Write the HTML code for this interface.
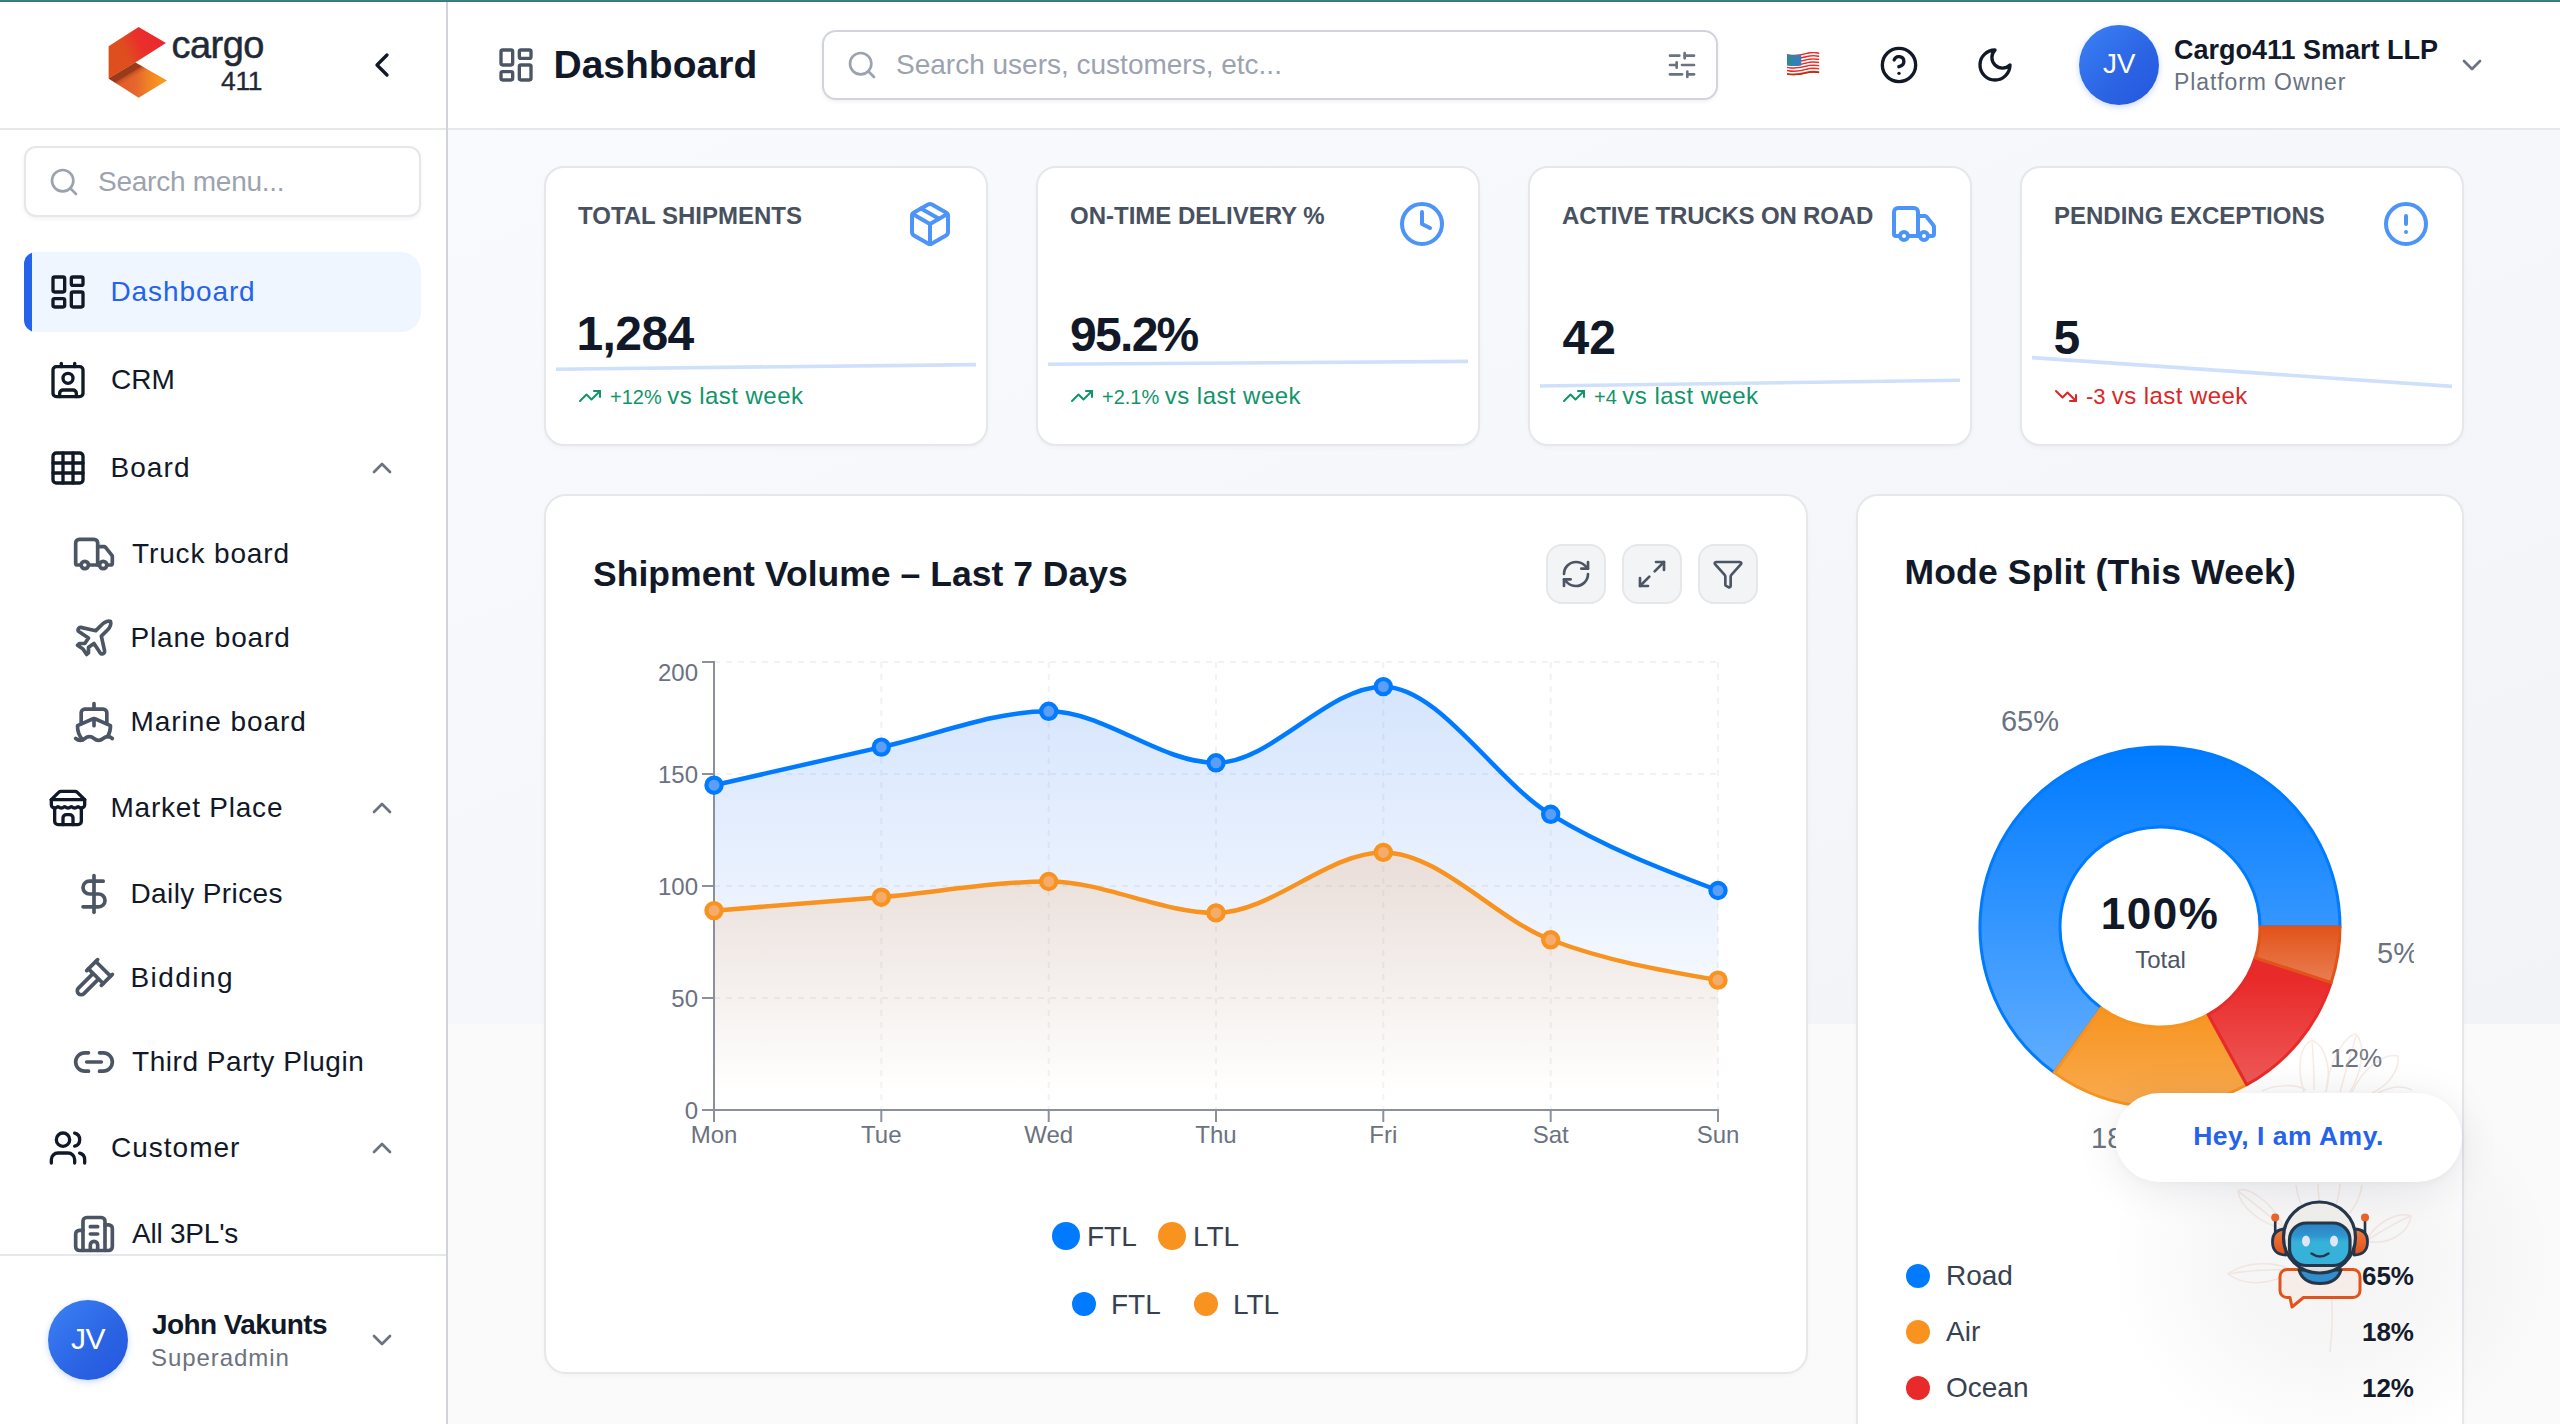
<!DOCTYPE html>
<html lang="en">
<head>
<meta charset="utf-8">
<title>Dashboard</title>
<style>
*{box-sizing:border-box;margin:0;padding:0}
html,body{width:2560px;height:1424px;overflow:hidden;background:#fafafa;font-family:"Liberation Sans",sans-serif;color:#111827}
body{position:relative}
.abs{position:absolute}
svg{display:block;overflow:visible}
.ic{fill:none;stroke:currentColor;stroke-width:2;stroke-linecap:round;stroke-linejoin:round}
.t{position:absolute;white-space:nowrap;line-height:1}
#strip{left:0;top:0;width:2560px;height:2px;background:linear-gradient(#3d8388,#2f7478)}
#mainbg{left:448px;top:130px;width:2112px;height:894px;background:linear-gradient(to bottom right,#f9fafd 0%,#f6f7fa 50%,#f2f3f6 100%)}
#sb{left:0;top:2px;width:448px;height:1422px;background:#fff;border-right:2px solid #d1d5db}
#hd{left:448px;top:2px;width:2112px;height:128px;background:#fff;border-bottom:2px solid #e5e7eb}
#sbline{left:0;top:128px;width:446px;height:2px;background:#e5e7eb}
/* sidebar */
.nav{position:absolute;left:24px;width:397px;height:80px;border-radius:12px 20px 20px 12px}
.nav.act{background:#eff6ff;overflow:hidden}
.nav.act:before{content:"";position:absolute;left:0;top:0;width:8px;height:100%;background:#2563eb}
.nav svg.i1{position:absolute;left:24px;top:20px;width:40px;height:40px;color:#111827}
.nav .lb{position:absolute;left:88px;top:24px;font-size:28px;line-height:32px;white-space:nowrap;letter-spacing:.5px}
.nav svg.ch{position:absolute;left:342px;top:24px;width:32px;height:32px;color:#6b7280}
.sub{position:absolute;left:48px;width:373px;height:76px}
.sub svg.i2{position:absolute;left:24px;top:16px;width:44px;height:44px;color:#4b5563}
.sub .lb{position:absolute;left:84px;top:22px;font-size:28px;line-height:32px;white-space:nowrap;letter-spacing:.5px}
/* cards */
.card{position:absolute;background:#fff;border:2px solid #e5e7eb;border-radius:20px;box-shadow:0 2px 4px rgba(16,24,40,.03)}
.kpi{top:166px;width:444px;height:280px}
.kpi .lab{position:absolute;left:32px;top:35.6px;font-size:24px;line-height:1;font-weight:bold;color:#47515f;white-space:nowrap}
.kpi .val{position:absolute;left:32px;top:140.8px;font-size:48px;line-height:1;font-weight:bold;color:#111827;white-space:nowrap;letter-spacing:-.6px}
.kpi .tr{position:absolute;left:32px;top:215.6px;height:24px;font-size:24px;line-height:1;white-space:nowrap;color:#12946a;letter-spacing:.45px}
.kpi .tr .n{font-size:20px;letter-spacing:0}
.kpi .tr svg{position:absolute;left:0;top:0.5px;width:24px;height:24px}
.kpi .tr span.x{position:absolute;left:32px;top:0}
.kpi svg.ki{position:absolute;left:360px;top:32px;width:48px;height:48px;color:#4d94f8}
</style>
</head>
<body>
<div id="mainbg" class="abs"></div>
<div id="sb" class="abs"></div>
<div id="hd" class="abs"></div>
<div id="sbline" class="abs"></div>
<div id="strip" class="abs"></div>

<!-- logo -->
<svg class="abs" style="left:100px;top:20px" width="80" height="84" viewBox="100 20 80 84">
<defs>
<linearGradient id="lgA" x1="112" y1="62" x2="160" y2="40" gradientUnits="userSpaceOnUse"><stop offset="0" stop-color="#de4f1e"/><stop offset=".32" stop-color="#df4d1f"/><stop offset=".62" stop-color="#e9302b"/><stop offset="1" stop-color="#ec282e"/></linearGradient>
<linearGradient id="lgB" x1="118" y1="80" x2="160" y2="82" gradientUnits="userSpaceOnUse"><stop offset="0" stop-color="#e15b26"/><stop offset=".45" stop-color="#e5682d"/><stop offset=".7" stop-color="#ef8026"/><stop offset="1" stop-color="#f8961e"/></linearGradient><linearGradient id="lgS" x1="122" y1="70.2" x2="128.500" y2="81" gradientUnits="userSpaceOnUse"><stop offset="0" stop-color="#9a3a1b"/><stop offset=".5" stop-color="#9c3b1b"/><stop offset=".62" stop-color="#b04520" stop-opacity=".6"/><stop offset="1" stop-color="#d55525" stop-opacity="0"/></linearGradient>
</defs>
<polygon points="108.600,46.2 138.600,26.9 166,43 135.300,62.5 108.600,78.5" fill="url(#lgA)"/>
<polygon points="108.600,78.5 135.300,62.5 167,80.5 138.600,97.8" fill="url(#lgB)"/><polygon points="108.600,78.5 135.300,62.5 167,80.5 138.600,97.8" fill="url(#lgS)"/>
</svg>
<div class="t" style="left:171.5px;top:25.8px;font-size:38px;color:#1f2937;letter-spacing:-.55px;-webkit-text-stroke:.5px #1f2937">cargo</div>
<div class="t" style="left:221px;top:68.2px;font-size:26.4px;color:#1f2937;letter-spacing:-.3px;-webkit-text-stroke:.35px #1f2937">411</div>
<svg class="abs ic" style="left:362px;top:45px;color:#111827" width="40" height="40" viewBox="0 0 24 24"><path d="m15 18-6-6 6-6"/></svg>

<!-- search menu -->
<div class="abs" style="left:24px;top:146px;width:397px;height:71px;background:#fff;border:2px solid #e5e7eb;border-radius:12px;box-shadow:0 2px 4px rgba(16,24,40,.05)"></div>
<svg class="abs ic" style="left:48px;top:166px;color:#9ca3af" width="32" height="32" viewBox="0 0 24 24"><circle cx="11" cy="11" r="8"/><path d="m21 21-4.3-4.3"/></svg>
<div class="t" style="left:98px;top:168px;font-size:28px;color:#9ca3af;letter-spacing:-.25px">Search menu...</div>

<!-- nav -->
<div class="nav act" style="top:252px">
<svg class="i1 ic" viewBox="0 0 24 24"><rect width="7" height="9" x="3" y="3" rx="1"/><rect width="7" height="5" x="14" y="3" rx="1"/><rect width="7" height="9" x="14" y="12" rx="1"/><rect width="7" height="5" x="3" y="16" rx="1"/></svg>
<div class="lb" style="color:#2563eb;letter-spacing:0.90px;margin-left:-1.5px">Dashboard</div></div>

<div class="nav" style="top:340px">
<svg class="i1 ic" viewBox="0 0 24 24"><path d="M16 2v2"/><path d="M7 22v-2a2 2 0 0 1 2-2h6a2 2 0 0 1 2 2v2"/><path d="M8 2v2"/><circle cx="12" cy="11" r="3"/><rect x="3" y="4" width="18" height="18" rx="2"/></svg>
<div class="lb" style="letter-spacing:0.07px;margin-left:-1.0px">CRM</div></div>

<div class="nav" style="top:428px">
<svg class="i1 ic" viewBox="0 0 24 24"><rect width="18" height="18" x="3" y="3" rx="2"/><path d="M3 9h18"/><path d="M3 15h18"/><path d="M9 3v18"/><path d="M15 3v18"/></svg>
<div class="lb" style="letter-spacing:1.06px;margin-left:-1.5px">Board</div>
<svg class="ch ic" viewBox="0 0 24 24"><path d="m18 15-6-6-6 6"/></svg></div>

<div class="sub" style="top:516px">
<svg class="i2 ic" viewBox="0 0 24 24"><path d="M14 18V6a2 2 0 0 0-2-2H4a2 2 0 0 0-2 2v11a1 1 0 0 0 1 1h2"/><path d="M15 18H9"/><path d="M19 18h2a1 1 0 0 0 1-1v-3.650a1 1 0 0 0-.22-.624l-3.480-4.350A1 1 0 0 0 17.520 8H14"/><circle cx="17" cy="18" r="2"/><circle cx="7" cy="18" r="2"/></svg>
<div class="lb" style="letter-spacing:0.87px">Truck board</div></div>

<div class="sub" style="top:600px">
<svg class="i2 ic" viewBox="0 0 24 24"><path d="M17.800 19.200 16 11l3.500-3.500C21 6 21.500 4 21 3c-1-.5-3 0-4.500 1.500L13 8 4.800 6.200c-.5-.1-.9.100-1.100.5l-.3.500c-.2.500-.1 1 .3 1.300L9 12l-2 3H4l-1 1 3 2 2 3 1-1v-3l3-2 3.500 5.300c.3.400.8.500 1.300.3l.500-.2c.4-.3.600-.7.500-1.200z"/></svg>
<div class="lb" style="letter-spacing:0.82px;margin-left:-1.5px">Plane board</div></div>

<div class="sub" style="top:684px">
<svg class="i2 ic" viewBox="0 0 24 24"><path d="M12 10.189V14"/><path d="M12 2v3"/><path d="M19 13V7a2 2 0 0 0-2-2H7a2 2 0 0 0-2 2v6"/><path d="M19.380 20A11.600 11.600 0 0 0 21 14l-8.188-3.639a2 2 0 0 0-1.624 0L3 14a11.600 11.600 0 0 0 2.810 7.760"/><path d="M2 21c.6.500 1.200 1 2.500 1 2.500 0 2.500-2 5-2 1.300 0 1.900.500 2.500 1s1.200 1 2.500 1c2.500 0 2.500-2 5-2 1.300 0 1.900.500 2.500 1"/></svg>
<div class="lb" style="letter-spacing:0.94px;margin-left:-1.5px">Marine board</div></div>

<div class="nav" style="top:768px">
<svg class="i1 ic" viewBox="0 0 24 24"><path d="m2 7 4.410-4.410A2 2 0 0 1 7.830 2h8.340a2 2 0 0 1 1.420.590L22 7"/><path d="M4 12v8a2 2 0 0 0 2 2h12a2 2 0 0 0 2-2v-8"/><path d="M15 22v-4a2 2 0 0 0-2-2h-2a2 2 0 0 0-2 2v4"/><path d="M2 7h20"/><path d="M22 7v3a2 2 0 0 1-2 2a2.700 2.700 0 0 1-1.590-.630.700.700 0 0 0-.820 0A2.700 2.700 0 0 1 16 12a2.700 2.700 0 0 1-1.590-.630.700.700 0 0 0-.820 0A2.700 2.700 0 0 1 12 12a2.700 2.700 0 0 1-1.590-.630.700.700 0 0 0-.820 0A2.700 2.700 0 0 1 8 12a2.700 2.700 0 0 1-1.590-.630.700.700 0 0 0-.820 0A2.700 2.700 0 0 1 4 12a2 2 0 0 1-2-2V7"/></svg>
<div class="lb" style="letter-spacing:0.78px;margin-left:-1.5px">Market Place</div>
<svg class="ch ic" viewBox="0 0 24 24"><path d="m18 15-6-6-6 6"/></svg></div>

<div class="sub" style="top:856px">
<svg class="i2 ic" viewBox="0 0 24 24"><line x1="12" x2="12" y1="2" y2="22"/><path d="M17 5H9.500a3.500 3.500 0 0 0 0 7h5a3.500 3.500 0 0 1 0 7H6"/></svg>
<div class="lb" style="letter-spacing:0.38px;margin-left:-1.5px">Daily Prices</div></div>

<div class="sub" style="top:940px">
<svg class="i2 ic" viewBox="0 0 24 24"><path d="m14 13-7.500 7.500c-.83.830-2.170.830-3 0 0 0 0 0 0 0a2.120 2.120 0 0 1 0-3L11 10"/><path d="m16 16 6-6"/><path d="m8 8 6-6"/><path d="m9 7 8 8"/><path d="m21 11-8-8"/></svg>
<div class="lb" style="letter-spacing:1.44px;margin-left:-1.5px">Bidding</div></div>

<div class="sub" style="top:1024px">
<svg class="i2 ic" viewBox="0 0 24 24"><path d="M9 17H7A5 5 0 0 1 7 7h2"/><path d="M15 7h2a5 5 0 1 1 0 10h-2"/><line x1="8" x2="16" y1="12" y2="12"/></svg>
<div class="lb" style="letter-spacing:0.54px">Third Party Plugin</div></div>

<div class="nav" style="top:1108px">
<svg class="i1 ic" viewBox="0 0 24 24"><path d="M16 21v-2a4 4 0 0 0-4-4H6a4 4 0 0 0-4 4v2"/><circle cx="9" cy="7" r="4"/><path d="M22 21v-2a4 4 0 0 0-3-3.870"/><path d="M16 3.130a4 4 0 0 1 0 7.750"/></svg>
<div class="lb" style="letter-spacing:1.00px;margin-left:-1.0px">Customer</div>
<svg class="ch ic" viewBox="0 0 24 24"><path d="m18 15-6-6-6 6"/></svg></div>

<div class="sub" style="top:1196px">
<svg class="i2 ic" viewBox="0 0 24 24"><path d="M10 12h4"/><path d="M10 8h4"/><path d="M14 21v-3a2 2 0 0 0-4 0v3"/><path d="M6 10H4a2 2 0 0 0-2 2v7a2 2 0 0 0 2 2h16a2 2 0 0 0 2-2V9a2 2 0 0 0-2-2h-2"/><path d="M6 21V5a2 2 0 0 1 2-2h8a2 2 0 0 1 2 2v16"/></svg>
<div class="lb" style="letter-spacing:-0.22px">All 3PL's</div></div>

<!-- sidebar footer -->
<div class="abs" style="left:0;top:1254px;width:446px;height:170px;background:#fff;border-top:2px solid #e5e7eb"></div>
<div class="abs" style="left:48px;top:1300px;width:80px;height:80px;border-radius:50%;background:linear-gradient(135deg,#3b82f6 0%,#2b63e3 60%,#2457df 100%);box-shadow:0 2px 6px rgba(37,99,235,.25)"></div>
<div class="t" style="left:48px;top:1324px;width:80px;text-align:center;font-size:30px;color:#fff;letter-spacing:-.5px">JV</div>
<div class="t" style="left:152px;top:1311px;font-size:28px;font-weight:bold;color:#111827;letter-spacing:-.58px">John Vakunts</div>
<div class="t" style="left:151px;top:1346px;font-size:24px;color:#6b7280;letter-spacing:.94px">Superadmin</div>
<svg class="abs ic" style="left:366px;top:1324px;color:#6b7280" width="32" height="32" viewBox="0 0 24 24"><path d="m6 9 6 6 6-6"/></svg>

<!-- header -->
<svg class="abs ic" style="left:496px;top:45px;color:#4b5563" width="40" height="40" viewBox="0 0 24 24"><rect width="7" height="9" x="3" y="3" rx="1"/><rect width="7" height="5" x="14" y="3" rx="1"/><rect width="7" height="9" x="14" y="12" rx="1"/><rect width="7" height="5" x="3" y="16" rx="1"/></svg>
<div class="t" style="left:553.5px;top:45.4px;font-size:39px;font-weight:bold;color:#111827">Dashboard</div>
<div class="abs" style="left:822px;top:30px;width:896px;height:70px;background:#fff;border:2px solid #d1d5db;border-radius:14px;box-shadow:0 2px 4px rgba(16,24,40,.06)"></div>
<svg class="abs ic" style="left:846px;top:49px;color:#9ca3af" width="32" height="32" viewBox="0 0 24 24"><circle cx="11" cy="11" r="8"/><path d="m21 21-4.300-4.300"/></svg>
<div class="t" style="left:896px;top:51px;font-size:28px;color:#9ca3af">Search users, customers, etc...</div>
<svg class="abs ic" style="left:1666px;top:49px;color:#6b7280" width="32" height="32" viewBox="0 0 24 24"><path d="M10 5H3"/><path d="M12 19H3"/><path d="M14 3v4"/><path d="M16 17v4"/><path d="M21 12h-9"/><path d="M21 19h-5"/><path d="M21 5h-7"/><path d="M8 10v4"/><path d="M8 12H3"/></svg>
<svg class="abs" style="left:1787px;top:52px" width="33" height="24" viewBox="0 0 33 24">
<defs><clipPath id="fc"><rect x="0" y="0" width="32.4" height="24"/></clipPath></defs>
<g clip-path="url(#fc)"><path d="M0,2.98 C8,4.38 13,3.58 19,1.78 S28,0.48 32.4,1.28" stroke="#ee2a24" stroke-width="1.72" fill="none"/>
<path d="M0,4.55 C8,5.95 13,5.15 19,3.35 S28,2.05 32.4,2.85" stroke="#ffffff" stroke-width="1.72" fill="none"/>
<path d="M0,6.12 C8,7.52 13,6.72 19,4.92 S28,3.62 32.4,4.42" stroke="#ee2a24" stroke-width="1.72" fill="none"/>
<path d="M0,7.69 C8,9.09 13,8.29 19,6.49 S28,5.19 32.4,5.99" stroke="#ffffff" stroke-width="1.72" fill="none"/>
<path d="M0,9.26 C8,10.66 13,9.86 19,8.06 S28,6.76 32.4,7.56" stroke="#ee2a24" stroke-width="1.72" fill="none"/>
<path d="M0,10.83 C8,12.23 13,11.43 19,9.63 S28,8.33 32.4,9.13" stroke="#ffffff" stroke-width="1.72" fill="none"/>
<path d="M0,12.40 C8,13.80 13,13.00 19,11.20 S28,9.90 32.4,10.70" stroke="#ee2a24" stroke-width="1.72" fill="none"/>
<path d="M0,13.97 C8,15.37 13,14.57 19,12.77 S28,11.47 32.4,12.27" stroke="#ffffff" stroke-width="1.72" fill="none"/>
<path d="M0,15.54 C8,16.94 13,16.14 19,14.34 S28,13.04 32.4,13.84" stroke="#ee2a24" stroke-width="1.72" fill="none"/>
<path d="M0,17.11 C8,18.51 13,17.71 19,15.91 S28,14.61 32.4,15.41" stroke="#ffffff" stroke-width="1.72" fill="none"/>
<path d="M0,18.68 C8,20.08 13,19.28 19,17.48 S28,16.18 32.4,16.98" stroke="#ee2a24" stroke-width="1.72" fill="none"/>
<path d="M0,20.25 C8,21.65 13,20.85 19,19.05 S28,17.75 32.4,18.55" stroke="#ffffff" stroke-width="1.72" fill="none"/>
<path d="M0,21.82 C8,23.22 13,22.42 19,20.62 S28,19.32 32.4,20.12" stroke="#ee2a24" stroke-width="1.72" fill="none"/>
<path d="M0,2.2 C5,3.4 9.5,3.2 14.2,2.4 L14.2,13.4 C9.5,14.2 5,14.4 0,13.2Z" fill="#337fbc"/>
<path d="M0,2.2 C2,2.7 4,3 6,3.1 L6,14 C4,13.9 2,13.7 0,13.2Z" fill="#2f8b8c" opacity=".8"/>
<path d="M0,22 C8,23.6 13,22.6 19,21 S28,19.8 32.4,20.6" stroke="#a8360c" stroke-width="1.2" fill="none"/>
</g></svg>
<svg class="abs ic" style="left:1879px;top:45px;color:#111827" width="40" height="40" viewBox="0 0 24 24"><circle cx="12" cy="12" r="10"/><path d="M9.090 9a3 3 0 0 1 5.830 1c0 2-3 3-3 3"/><path d="M12 17h.01"/></svg>
<svg class="abs ic" style="left:1975px;top:45px;color:#111827" width="40" height="40" viewBox="0 0 24 24"><path d="M12 3a6 6 0 0 0 9 9 9 9 0 1 1-9-9Z"/></svg>
<div class="abs" style="left:2079px;top:25px;width:80px;height:80px;border-radius:50%;background:linear-gradient(135deg,#3b82f6 0%,#2b63e3 60%,#2457df 100%);box-shadow:0 2px 6px rgba(37,99,235,.25)"></div>
<div class="t" style="left:2079px;top:50px;width:80px;text-align:center;font-size:28px;color:#fff;letter-spacing:-.3px">JV</div>
<div class="t" style="left:2174px;top:36.5px;font-size:27px;font-weight:bold;color:#111827">Cargo411 Smart LLP</div>
<div class="t" style="left:2174px;top:70.8px;font-size:23px;color:#6b7280;letter-spacing:.9px">Platform Owner</div>
<svg class="abs ic" style="left:2456px;top:49px;color:#6b7280" width="32" height="32" viewBox="0 0 24 24"><path d="m6 9 6 6 6-6"/></svg>

<!-- KPI cards -->
<div class="card kpi" style="left:544px">
<div class="lab">TOTAL SHIPMENTS</div>
<svg class="ki ic" viewBox="0 0 24 24"><path d="m7.500 4.270 9 5.150"/><path d="M21 8a2 2 0 0 0-1-1.730l-7-4a2 2 0 0 0-2 0l-7 4A2 2 0 0 0 3 8v8a2 2 0 0 0 1 1.730l7 4a2 2 0 0 0 2 0l7-4A2 2 0 0 0 21 16Z"/><path d="m3.300 7 8.700 5 8.700-5"/><path d="M12 22V12"/></svg>
<div class="val" style="left:30.5px;top:141.8px">1,284</div>
<div class="tr"><svg class="ic" viewBox="0 0 24 24"><polyline points="22 7 13.500 15.500 8.500 10.500 2 17"/><polyline points="16 7 22 7 22 13"/></svg><span class="x"><span class="n">+12% </span>vs last week</span></div>
</div>
<div class="card kpi" style="left:1036px">
<div class="lab">ON-TIME DELIVERY %</div>
<svg class="ki ic" viewBox="0 0 24 24"><circle cx="12" cy="12" r="10"/><polyline points="12 6 12 12 16 14"/></svg>
<div class="val" style="left:32px;top:142.8px;letter-spacing:-1.7px">95.2%</div>
<div class="tr"><svg class="ic" viewBox="0 0 24 24"><polyline points="22 7 13.500 15.500 8.500 10.500 2 17"/><polyline points="16 7 22 7 22 13"/></svg><span class="x"><span class="n">+2.1% </span>vs last week</span></div>
</div>
<div class="card kpi" style="left:1528px">
<div class="lab" style="letter-spacing:-.17px">ACTIVE TRUCKS ON ROAD</div>
<svg class="ki ic" viewBox="0 0 24 24"><path d="M14 18V6a2 2 0 0 0-2-2H4a2 2 0 0 0-2 2v11a1 1 0 0 0 1 1h2"/><path d="M15 18H9"/><path d="M19 18h2a1 1 0 0 0 1-1v-3.650a1 1 0 0 0-.22-.624l-3.480-4.350A1 1 0 0 0 17.520 8H14"/><circle cx="17" cy="18" r="2"/><circle cx="7" cy="18" r="2"/></svg>
<div class="val" style="left:32.5px;top:146px;letter-spacing:0">42</div>
<div class="tr"><svg class="ic" viewBox="0 0 24 24"><polyline points="22 7 13.500 15.500 8.500 10.500 2 17"/><polyline points="16 7 22 7 22 13"/></svg><span class="x"><span class="n">+4 </span>vs last week</span></div>
</div>
<div class="card kpi" style="left:2020px">
<div class="lab">PENDING EXCEPTIONS</div>
<svg class="ki ic" viewBox="0 0 24 24"><circle cx="12" cy="12" r="10"/><line x1="12" x2="12" y1="8" y2="12"/><line x1="12" x2="12.010" y1="16" y2="16"/></svg>
<div class="val" style="left:31.5px;top:146px">5</div>
<div class="tr" style="color:#dc2626"><svg class="ic" viewBox="0 0 24 24"><polyline points="22 17 13.500 8.500 8.500 13.500 2 7"/><polyline points="16 17 22 17 22 11"/></svg><span class="x"><span class="n" style="font-size:22px">-3 </span>vs last week</span></div>
</div>
<svg class="abs" style="left:0;top:0;pointer-events:none" width="2560" height="1424" viewBox="0 0 2560 1424" fill="none" stroke="#cfe0fc" stroke-width="3.6">
<path d="M556,369.2 L976,364.6"/>
<path d="M1048,364.2 L1468,361.4"/>
<path d="M1540,386 L1960,380.2"/>
<path d="M2032,357.6 L2452,386.4"/>
</svg>

<!-- chart card -->
<div class="card" style="left:544px;top:494px;width:1264px;height:880px;border-radius:22px"></div>
<div class="t" style="left:593px;top:556.6px;font-size:35.5px;font-weight:bold;color:#111827;letter-spacing:.03px">Shipment Volume – Last 7 Days</div>
<div class="abs" style="left:1546px;top:544px;width:60px;height:60px;border-radius:16px;background:#f3f4f6;border:2px solid #e5e7eb"></div><svg class="abs ic" style="left:1560px;top:558px;color:#4b5563" width="32" height="32" viewBox="0 0 24 24"><path d="M3 12a9 9 0 0 1 9-9 9.750 9.750 0 0 1 6.740 2.740L21 8"/><path d="M21 3v5h-5"/><path d="M21 12a9 9 0 0 1-9 9 9.750 9.750 0 0 1-6.740-2.740L3 16"/><path d="M8 16H3v5"/></svg>
<div class="abs" style="left:1622px;top:544px;width:60px;height:60px;border-radius:16px;background:#f3f4f6;border:2px solid #e5e7eb"></div><svg class="abs ic" style="left:1636px;top:558px;color:#4b5563" width="32" height="32" viewBox="0 0 24 24"><polyline points="15 3 21 3 21 9"/><polyline points="9 21 3 21 3 15"/><line x1="21" x2="14" y1="3" y2="10"/><line x1="3" x2="10" y1="21" y2="14"/></svg>
<div class="abs" style="left:1698px;top:544px;width:60px;height:60px;border-radius:16px;background:#f3f4f6;border:2px solid #e5e7eb"></div><svg class="abs ic" style="left:1712px;top:558px;color:#4b5563" width="32" height="32" viewBox="0 0 24 24"><path d="M10 20a1 1 0 0 0 .553.895l2 1A1 1 0 0 0 14 21v-7a2 2 0 0 1 .517-1.341L21.740 4.670A1 1 0 0 0 21 3H3a1 1 0 0 0-.742 1.670l7.225 7.989A2 2 0 0 1 10 14z"/></svg>
<svg class="abs" style="left:0;top:0" width="2560" height="1424" viewBox="0 0 2560 1424" font-family="Liberation Sans, sans-serif">
<defs><linearGradient id="gF" x1="0" y1="707.8" x2="0" y2="1088.8" gradientUnits="userSpaceOnUse"><stop offset="0" stop-color="#3b82f6" stop-opacity=".2"/><stop offset="1" stop-color="#3b82f6" stop-opacity="0"/></linearGradient>
<linearGradient id="gL" x1="0" y1="865.3" x2="0" y2="1097" gradientUnits="userSpaceOnUse"><stop offset="0" stop-color="#f7861e" stop-opacity=".16"/><stop offset="1" stop-color="#f7861e" stop-opacity="0"/></linearGradient></defs>
<g stroke="#e5e7eb" stroke-width="2" stroke-dasharray="6 6" fill="none" opacity=".5"><line x1="714" x2="1718" y1="998.0" y2="998.0"/><line x1="714" x2="1718" y1="886.0" y2="886.0"/><line x1="714" x2="1718" y1="774.0" y2="774.0"/><line x1="714" x2="1718" y1="662.0" y2="662.0"/><line x1="881.3" x2="881.3" y1="662" y2="1110"/><line x1="1048.7" x2="1048.7" y1="662" y2="1110"/><line x1="1216.0" x2="1216.0" y1="662" y2="1110"/><line x1="1383.3" x2="1383.3" y1="662" y2="1110"/><line x1="1550.7" x2="1550.7" y1="662" y2="1110"/><line x1="1718.0" x2="1718.0" y1="662" y2="1110"/></g>
<path d="M714.00,785.20C769.78,772.32,825.56,759.44,881.33,747.12C937.11,734.80,992.89,711.28,1048.67,711.28C1104.44,711.28,1160.22,762.80,1216.00,762.80C1271.78,762.80,1327.56,686.64,1383.33,686.64C1439.11,686.64,1494.89,780.35,1550.67,814.32C1606.44,848.29,1662.22,869.39,1718.00,890.48L1718.00,1110.00L714.00,1110.00Z" fill="url(#gF)"/>
<path d="M714.00,910.64C769.78,906.35,825.56,902.05,881.33,897.20C937.11,892.35,992.89,881.52,1048.67,881.52C1104.44,881.52,1160.22,912.88,1216.00,912.88C1271.78,912.88,1327.56,852.40,1383.33,852.40C1439.11,852.40,1494.89,918.48,1550.67,939.76C1606.44,961.04,1662.22,970.56,1718.00,980.08L1718.00,1110.00L714.00,1110.00Z" fill="#fff" opacity="0"/>
<path d="M714.00,910.64C769.78,906.35,825.56,902.05,881.33,897.20C937.11,892.35,992.89,881.52,1048.67,881.52C1104.44,881.52,1160.22,912.88,1216.00,912.88C1271.78,912.88,1327.56,852.40,1383.33,852.40C1439.11,852.40,1494.89,918.48,1550.67,939.76C1606.44,961.04,1662.22,970.56,1718.00,980.08L1718.00,1110.00L714.00,1110.00Z" fill="url(#gL)"/>
<g stroke="#8a909c" stroke-width="2" fill="none"><line x1="714" x2="714" y1="661" y2="1110"/><line x1="702" x2="1719" y1="1110" y2="1110"/><line x1="702" x2="714" y1="998.0" y2="998.0"/><line x1="702" x2="714" y1="886.0" y2="886.0"/><line x1="702" x2="714" y1="774.0" y2="774.0"/><line x1="702" x2="714" y1="662.0" y2="662.0"/><line x1="714.0" x2="714.0" y1="1110" y2="1122"/><line x1="881.3" x2="881.3" y1="1110" y2="1122"/><line x1="1048.7" x2="1048.7" y1="1110" y2="1122"/><line x1="1216.0" x2="1216.0" y1="1110" y2="1122"/><line x1="1383.3" x2="1383.3" y1="1110" y2="1122"/><line x1="1550.7" x2="1550.7" y1="1110" y2="1122"/><line x1="1718.0" x2="1718.0" y1="1110" y2="1122"/></g>
<g fill="#6b7280"><text x="698" y="1118.5" text-anchor="end" font-size="24">0</text><text x="698" y="1006.5" text-anchor="end" font-size="24">50</text><text x="698" y="894.5" text-anchor="end" font-size="24">100</text><text x="698" y="782.5" text-anchor="end" font-size="24">150</text><text x="698" y="681.0" text-anchor="end" font-size="24">200</text><text x="714.0" y="1143" text-anchor="middle" font-size="24">Mon</text><text x="881.3" y="1143" text-anchor="middle" font-size="24">Tue</text><text x="1048.7" y="1143" text-anchor="middle" font-size="24">Wed</text><text x="1216.0" y="1143" text-anchor="middle" font-size="24">Thu</text><text x="1383.3" y="1143" text-anchor="middle" font-size="24">Fri</text><text x="1550.7" y="1143" text-anchor="middle" font-size="24">Sat</text><text x="1718.0" y="1143" text-anchor="middle" font-size="24">Sun</text></g>
<path d="M714.00,785.20C769.78,772.32,825.56,759.44,881.33,747.12C937.11,734.80,992.89,711.28,1048.67,711.28C1104.44,711.28,1160.22,762.80,1216.00,762.80C1271.78,762.80,1327.56,686.64,1383.33,686.64C1439.11,686.64,1494.89,780.35,1550.67,814.32C1606.44,848.29,1662.22,869.39,1718.00,890.48" fill="none" stroke="#007bff" stroke-width="4.5" stroke-linecap="round"/>
<path d="M714.00,910.64C769.78,906.35,825.56,902.05,881.33,897.20C937.11,892.35,992.89,881.52,1048.67,881.52C1104.44,881.52,1160.22,912.88,1216.00,912.88C1271.78,912.88,1327.56,852.40,1383.33,852.40C1439.11,852.40,1494.89,918.48,1550.67,939.76C1606.44,961.04,1662.22,970.56,1718.00,980.08" fill="none" stroke="#f7931e" stroke-width="4.5" stroke-linecap="round"/>
<g fill="#5c9ef3" stroke="#007bff" stroke-width="4.2"><circle cx="714.0" cy="785.2" r="7.6"/><circle cx="881.3" cy="747.1" r="7.6"/><circle cx="1048.7" cy="711.3" r="7.6"/><circle cx="1216.0" cy="762.8" r="7.6"/><circle cx="1383.3" cy="686.6" r="7.6"/><circle cx="1550.7" cy="814.3" r="7.6"/><circle cx="1718.0" cy="890.5" r="7.6"/></g>
<g fill="#f4ab6b" stroke="#f7931e" stroke-width="4.2"><circle cx="714.0" cy="910.6" r="7.6"/><circle cx="881.3" cy="897.2" r="7.6"/><circle cx="1048.7" cy="881.5" r="7.6"/><circle cx="1216.0" cy="912.9" r="7.6"/><circle cx="1383.3" cy="852.4" r="7.6"/><circle cx="1550.7" cy="939.8" r="7.6"/><circle cx="1718.0" cy="980.1" r="7.6"/></g>
<circle cx="1066" cy="1236" r="14" fill="#007bff"/><circle cx="1172" cy="1236" r="14" fill="#f7931e"/>
<g fill="#374151" font-size="28"><text x="1087" y="1246">FTL</text><text x="1193" y="1246">LTL</text></g>
<circle cx="1084" cy="1304" r="12" fill="#007bff"/><circle cx="1206" cy="1304" r="12" fill="#f7931e"/>
<g fill="#374151" font-size="28"><text x="1111" y="1314">FTL</text><text x="1233" y="1314">LTL</text></g>
</svg>
<!-- mode split card -->
<div class="card" style="left:1856px;top:494px;width:608px;height:1000px;border-radius:22px"></div>
<div class="t" style="left:1904.5px;top:555.1px;font-size:35.5px;font-weight:bold;color:#111827;letter-spacing:.16px">Mode Split (This Week)</div>
<svg class="abs" style="left:0;top:0" width="2560" height="1424" viewBox="0 0 2560 1424" font-family="Liberation Sans, sans-serif">
<defs>
<linearGradient id="pR" x1="0" y1="746" x2="0" y2="1075" gradientUnits="userSpaceOnUse"><stop offset="0" stop-color="#007bff"/><stop offset="1" stop-color="#007bff" stop-opacity="0.62"/></linearGradient>
<linearGradient id="pA" x1="0" y1="1005" x2="0" y2="1106" gradientUnits="userSpaceOnUse"><stop offset="0" stop-color="#f7931e"/><stop offset="1" stop-color="#f7931e" stop-opacity="0.78"/></linearGradient>
<linearGradient id="pO" x1="0" y1="980" x2="0" y2="1085" gradientUnits="userSpaceOnUse"><stop offset="0" stop-color="#e92a2a"/><stop offset="1" stop-color="#e92a2a" stop-opacity="0.78"/></linearGradient>
<linearGradient id="pX" x1="0" y1="926" x2="0" y2="990" gradientUnits="userSpaceOnUse"><stop offset="0" stop-color="#e2531a"/><stop offset="1" stop-color="#e2531a" stop-opacity="0.72"/></linearGradient>
<clipPath id="pc"><rect x="1906" y="670" width="508" height="512"/></clipPath>
</defs>
<g stroke-width="3" stroke-linejoin="round">
<path d="M2340.00,927.00A180,180,0,1,0,2340.00,927.03L2260.00,927.02A100,100,0,1,1,2260.00,927.00Z" fill="#fff"/>
<path d="M2340.00,927.00A180,180,0,1,0,2054.20,1072.62L2101.22,1007.90A100,100,0,1,1,2260.00,927.00Z" fill="url(#pR)" stroke="#007bff"/>
<path d="M2054.20,1072.62A180,180,0,0,0,2246.72,1084.74L2208.18,1014.63A100,100,0,0,1,2101.22,1007.90Z" fill="url(#pA)" stroke="#f7931e"/>
<path d="M2246.72,1084.74A180,180,0,0,0,2331.19,982.62L2255.11,957.90A100,100,0,0,1,2208.18,1014.63Z" fill="url(#pO)" stroke="#e92a2a"/>
<path d="M2331.19,982.62A180,180,0,0,0,2340.00,927.00L2260.00,927.00A100,100,0,0,1,2255.11,957.90Z" fill="url(#pX)" stroke="#e2531a"/>
</g>
<g fill="#6b7280" font-size="29" clip-path="url(#pc)"><text x="2059" y="731" text-anchor="end">65%</text><text x="2377" y="963">5%</text><text x="2330" y="1067" font-size="26">12%</text><text x="2091" y="1148">18%</text></g>
<text x="2160" y="929" text-anchor="middle" font-size="44" font-weight="bold" fill="#111827" letter-spacing="1.5">100%</text>
<text x="2160.5" y="967.6" text-anchor="middle" font-size="24" fill="#4b5563">Total</text>
<circle cx="1918" cy="1276" r="12" fill="#007bff"/><text x="1946" y="1284.5" font-size="28" fill="#374151">Road</text><text x="2414" y="1284.5" font-size="26" font-weight="bold" fill="#111827" text-anchor="end">65%</text>
<circle cx="1918" cy="1332" r="12" fill="#f7931e"/><text x="1946" y="1340.5" font-size="28" fill="#374151">Air</text><text x="2414" y="1340.5" font-size="26" font-weight="bold" fill="#111827" text-anchor="end">18%</text>
<circle cx="1918" cy="1388" r="12" fill="#e92a2a"/><text x="1946" y="1396.5" font-size="28" fill="#374151">Ocean</text><text x="2414" y="1396.5" font-size="26" font-weight="bold" fill="#111827" text-anchor="end">12%</text>
</svg>
<!-- amy widget -->
<div class="abs" style="left:2110px;top:1060px;width:440px;height:400px;background:radial-gradient(closest-side,rgba(90,90,105,.07) 0%,rgba(90,90,105,.05) 45%,rgba(90,90,105,0) 100%);pointer-events:none"></div>
<svg class="abs" style="left:0;top:0" width="2560" height="1424" viewBox="0 0 2560 1424" fill="none" stroke="#e6c3b0" stroke-width="1.5" opacity=".32">
<path d="M2331,1290 C2333,1310 2332,1335 2330,1352"/>
<path d="M2228,1274 C2245,1261 2275,1261 2292,1270 C2275,1285 2245,1287 2228,1274Z"/><path d="M2228,1274 C2250,1270 2272,1269 2292,1270"/>
<path d="M2238,1191 C2243,1185 2270,1197 2285,1229 C2262,1225 2240,1207 2238,1191Z"/><path d="M2238,1191 C2252,1202 2270,1216 2285,1229"/>
<path d="M2366,1241 C2376,1222 2398,1211 2411,1216 C2409,1233 2388,1246 2366,1241Z"/><path d="M2366,1241 C2380,1232 2396,1222 2411,1216"/>
<path d="M2296,1185 C2298,1200 2304,1212 2312,1218"/><path d="M2362,1185 C2360,1200 2352,1212 2344,1218"/>
<path d="M2318,1184 C2318,1195 2320,1204 2322,1210"/><path d="M2340,1184 C2339,1195 2337,1204 2334,1210"/>
<path d="M2304,1092 C2296,1066 2300,1046 2312,1040 C2326,1046 2332,1070 2326,1092"/>
<path d="M2326,1092 C2328,1064 2344,1036 2356,1034 C2366,1044 2362,1072 2350,1092"/>
<path d="M2352,1092 C2362,1070 2384,1052 2398,1056 C2400,1070 2388,1086 2372,1093"/>
<path d="M2262,1091 C2276,1084 2296,1084 2306,1090"/><path d="M2378,1093 C2392,1086 2404,1086 2412,1090"/>
<path d="M2314,1090 C2314,1070 2313,1052 2312,1042"/><path d="M2340,1092 C2346,1070 2352,1050 2356,1036"/>
</svg>
<div class="abs" style="left:2115px;top:1093px;width:347px;height:89px;border-radius:45px;background:#fff;box-shadow:0 6px 44px rgba(15,23,42,.085),0 2px 8px rgba(15,23,42,.03)"></div>
<div class="t" style="left:2115px;top:1123.4px;width:347px;text-align:center;font-size:26.5px;font-weight:bold;color:#2563eb;letter-spacing:.5px">Hey, I am Amy.</div>
<svg class="abs" style="left:2260px;top:1190px" width="120" height="130" viewBox="2260 1190 120 130">
<defs>
<linearGradient id="rh" x1="0" y1="1201" x2="0" y2="1273" gradientUnits="userSpaceOnUse"><stop offset="0" stop-color="#eeece9"/><stop offset=".7" stop-color="#f0eeec"/><stop offset="1" stop-color="#d6d9dd"/></linearGradient>
<linearGradient id="rv" x1="0" y1="1222" x2="0" y2="1266" gradientUnits="userSpaceOnUse"><stop offset="0" stop-color="#2d7fc4"/><stop offset=".32" stop-color="#2f96cf"/><stop offset=".45" stop-color="#36b1d9"/><stop offset="1" stop-color="#36b1d9"/></linearGradient>
<linearGradient id="re" x1="0" y1="1229" x2="0" y2="1256" gradientUnits="userSpaceOnUse"><stop offset="0" stop-color="#ef7c3f"/><stop offset="1" stop-color="#df4f1a"/></linearGradient>
</defs>
<!-- antennas -->
<g stroke="#25364a" stroke-width="2.6" stroke-linecap="round"><line x1="2275.2" y1="1232" x2="2275.2" y2="1220"/><line x1="2365" y1="1232" x2="2365" y2="1220"/></g>
<circle cx="2275.2" cy="1217.5" r="4" fill="#e8622a"/><circle cx="2365" cy="1217.5" r="4" fill="#e8622a"/>
<!-- ears -->
<path d="M2286,1229 C2275,1229 2272.500,1236 2272.500,1242 C2272.500,1249 2276,1255 2286,1255Z" fill="url(#re)" stroke="#25364a" stroke-width="2.8" stroke-linejoin="round"/>
<path d="M2354,1229 C2365,1229 2367.500,1236 2367.500,1242 C2367.500,1249 2364,1255 2354,1255Z" fill="url(#re)" stroke="#25364a" stroke-width="2.8" stroke-linejoin="round"/>
<!-- speech bubble -->
<path d="M2287,1269.500 H2353 a7,7 0 0 1 7,7 V1290.500 a7,7 0 0 1 -7,7 H2303.500 L2292,1307 L2290,1297.500 H2287 a7,7 0 0 1 -7,-7 V1276.500 a7,7 0 0 1 7,-7Z" fill="#f6ece8" stroke="#e2531a" stroke-width="3" stroke-linejoin="round"/>
<!-- neck -->
<path d="M2299,1270 C2302,1280 2310,1283.500 2320,1283.500 C2330,1283.500 2338,1280 2341,1270Z" fill="#2f8fcd" stroke="#25364a" stroke-width="3" stroke-linejoin="round"/>
<!-- helmet -->
<ellipse cx="2319.500" cy="1237.500" rx="36" ry="35.500" fill="url(#rh)" stroke="#25364a" stroke-width="3.2"/>
<!-- visor -->
<rect x="2289.500" y="1223" width="60.500" height="42.500" rx="17" ry="17" fill="url(#rv)" stroke="#25364a" stroke-width="3.2"/>
<ellipse cx="2306" cy="1241" rx="4" ry="5.600" fill="#dde6fb"/><ellipse cx="2334" cy="1241" rx="4" ry="5.600" fill="#dde6fb"/>
<path d="M2311.500,1253.500 Q2320,1259.500 2328.500,1253.500" fill="none" stroke="#25364a" stroke-width="2.4" stroke-linecap="round"/>
</svg>

</body>
</html>
